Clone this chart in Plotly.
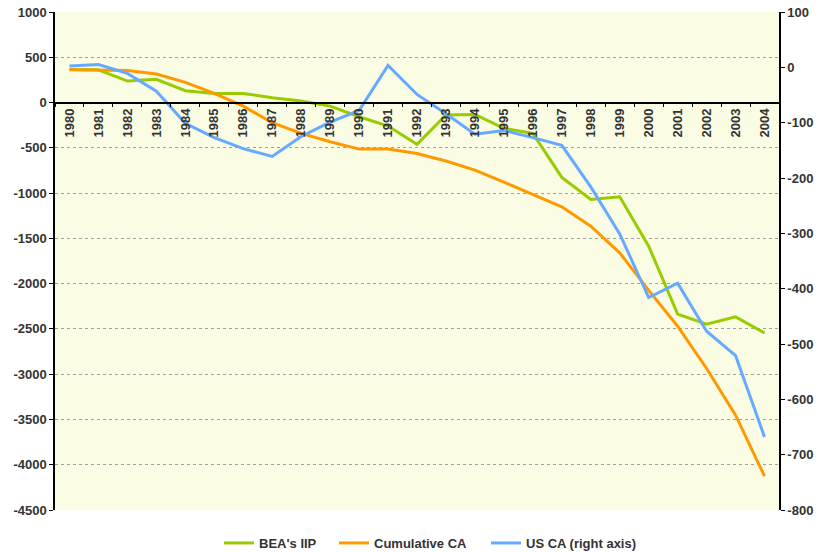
import plotly.graph_objects as go

years = [str(y) for y in range(1980, 2005)]
bea_iip = [365, 362, 237, 256, 130, 101, 101, 53, 17, -39, -157, -260, -462, -138, -131, -285, -341,
           -827, -1070, -1041, -1586, -2337, -2448, -2367, -2544]
cum_ca = [362, 362, 355, 315, 223, 101, -39, -223, -341, -433, -514, -514, -562, -646, -746, -878, -1011,
          -1151, -1365, -1660, -2075, -2470, -2937, -3453, -4127]
us_ca = [2.3, 5.0, -11, -43, -101, -127, -147, -161, -125, -99, -78, 3.6, -49, -84, -121, -114, -127,
         -141, -216, -301, -416, -390, -477, -521, -668]

left_ticks = [1000, 500, 0, -500, -1000, -1500, -2000, -2500, -3000, -3500, -4000, -4500]
left_labels = ["1000", "500", "0", "-500", "-1000", "-1500", "-2000", "-2500", "-3000", "-3500",
               "-4000", "-4500"]
right_ticks = [100, 0, -100, -200, -300, -400, -500, -600, -700, -800]
right_labels = ["100", "0", "-100", "-200", "-300", "-400", "-500", "-600", "-700", "-800"]

txt = "#333333"
font_fam = "Liberation Sans, Arial, sans-serif"
fs = 13
W, H = 817, 552

fig = go.Figure()
fig.add_trace(go.Scatter(x=years, y=bea_iip, name="BEA's IIP", mode="lines", legend="legend",
                         line=dict(color="#99CC00", width=3)))
fig.add_trace(go.Scatter(x=years, y=cum_ca, name="Cumulative CA", mode="lines", legend="legend2",
                         line=dict(color="#FF9900", width=3)))
fig.add_trace(go.Scatter(x=years, y=us_ca, name="US CA (right axis)", mode="lines", yaxis="y2",
                         legend="legend3", line=dict(color="#66AAFF", width=3)))


def leg(px):
    return dict(orientation="h", x=px / W, xanchor="left", xref="container",
                y=9 / H, yanchor="middle", yref="container",
                font=dict(size=fs, color=txt, weight="bold"), itemwidth=30,
                bgcolor="rgba(0,0,0,0)")


fig.update_layout(
    width=W, height=H,
    margin=dict(l=55, r=38, t=12, b=42),
    paper_bgcolor="white",
    plot_bgcolor="#FAFCE4",
    font=dict(family=font_fam, size=fs, color=txt, weight="bold"),
    showlegend=True,
    legend=leg(219),
    legend2=leg(334),
    legend3=leg(486),
    xaxis=dict(
        type="category", range=[-0.5, 24.5], anchor="free", position=4500 / 5500,
        showline=True, linecolor="black", linewidth=1.5, automargin=False,
        ticks="outside", ticklen=4, tickcolor="black", tickson="boundaries",
        tickangle=-90, showgrid=False, zeroline=False,
        tickfont=dict(size=fs, color=txt, weight="bold"),
    ),
    yaxis=dict(
        range=[-4500, 1000], tickvals=left_ticks, ticktext=left_labels, automargin=False,
        showline=True, linecolor="black", linewidth=1.5,
        ticks="outside", ticklen=4, tickcolor="black",
        showgrid=True, gridcolor="#A0A0A0", griddash="3px,3px", gridwidth=1,
        zeroline=False, ticklabeloverflow="allow",
        tickfont=dict(size=fs, color=txt, weight="bold"),
    ),
    yaxis2=dict(
        range=[-800, 100], tickvals=right_ticks, ticktext=right_labels, overlaying="y",
        side="right", automargin=False,
        showline=True, linecolor="black", linewidth=1.5,
        ticks="outside", ticklen=4, tickcolor="black",
        showgrid=False, zeroline=False, ticklabeloverflow="allow",
        tickfont=dict(size=fs, color=txt, weight="bold"),
    ),
    yaxis3=dict(
        range=[-800, 100], tickvals=right_ticks, overlaying="y", side="right", automargin=False,
        showline=False, ticks="inside", ticklen=4, tickcolor="black",
        showticklabels=False, showgrid=False, zeroline=False,
    ),
)

fig.write_html("out.html", config={"displayModeBar": False},
               post_script="document.body.style.margin='0';document.body.style.overflow='hidden';")
